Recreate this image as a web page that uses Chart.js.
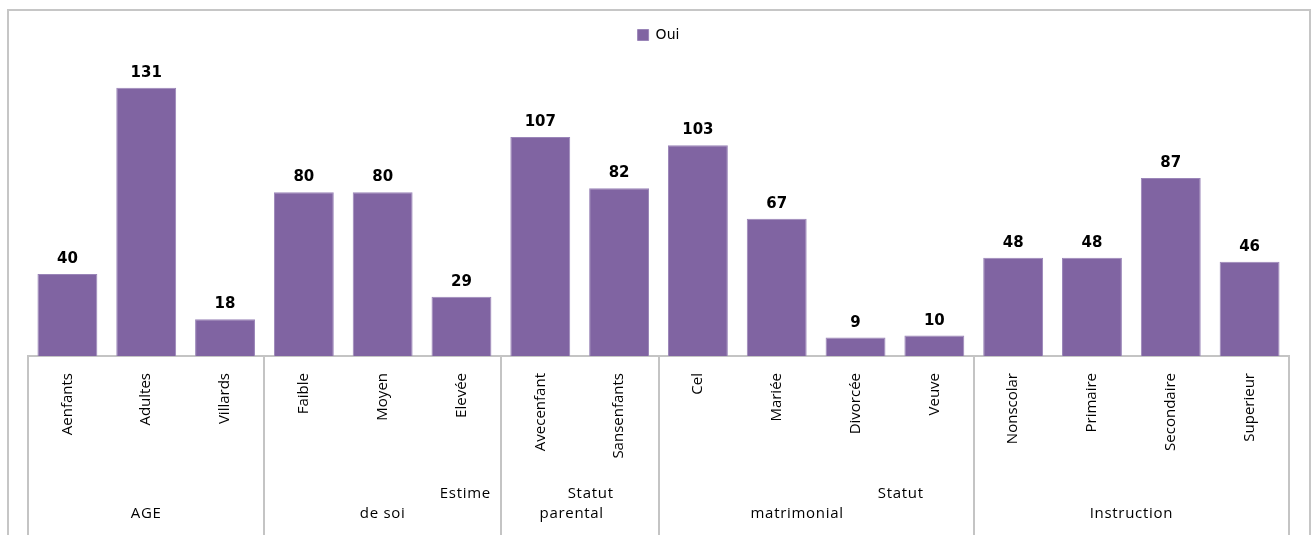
<!DOCTYPE html>
<html>
<head>
<meta charset="utf-8">
<script src="https://cdn.jsdelivr.net/npm/chart.js@4"></script>
<style>
  html,body{margin:0;padding:0;background:#fff;}
  #wrap{width:1313px;height:535px;position:relative;}
</style>
</head>
<body>
<div id="wrap"><canvas id="c" width="1313" height="535"></canvas></div>
<script>
// ---- data ----
const categories = ["Aenfants","Adultes","Villards","Faible","Moyen","Elevée","Avecenfant","Sansenfants","Cel","Mariée","Divorcée","Veuve","Nonscolar","Primaire","Secondaire","Superieur"];
const ouiValues = [40,131,18,80,80,29,107,82,103,67,9,10,48,48,87,46];
const groupNames = [["AGE"],["Estime","de soi"],["Statut","parental"],["Statut","matrimonial"],["Instruction"]];
const groupSizes = [3,3,2,4,4];
const seriesName = "Oui";

// ---- layout for the group label lines (styling, not data) ----
const groupLineLayout = [
  [{row:1, align:'center', dx:0}],
  [{row:0, align:'right', dx:-10}, {row:1, align:'center', dx:0}],
  [{row:0, align:'center', dx:11}, {row:1, align:'center', dx:-8}],
  [{row:0, align:'right', dx:-50}, {row:1, align:'center', dx:-19}],
  [{row:1, align:'center', dx:0}]
];

const PURPLE = '#8064A2';
const GRID = '#c4c4c4';

const decorPlugin = {
  id: 'decor',
  beforeDraw(chart) {
    const ctx = chart.ctx;
    ctx.save();
    ctx.fillStyle = '#fff';
    ctx.fillRect(0,0,chart.width,chart.height);
    ctx.strokeStyle = '#c6c6c6';
    ctx.lineWidth = 2;
    ctx.strokeRect(8, 10, 1302, 560);
    ctx.restore();
  },
  afterDraw(chart) {
    const ctx = chart.ctx;
    const xs = chart.scales.x;
    const area = chart.chartArea;
    const bounds = [area.left];
    let idx = 0;
    groupSizes.forEach(n => {
      idx += n;
      if (idx >= categories.length) bounds.push(area.right);
      else bounds.push((xs.getPixelForValue(idx - 1) + xs.getPixelForValue(idx)) / 2);
    });
    ctx.save();
    ctx.strokeStyle = GRID;
    ctx.lineWidth = 2;
    bounds.forEach(b => {
      ctx.beginPath();
      ctx.moveTo(Math.round(b), area.bottom);
      ctx.lineTo(Math.round(b), chart.height);
      ctx.stroke();
    });
    // group labels
    ctx.fillStyle = '#000';
    ctx.font = '15px "Open Sans"';
    try { ctx.letterSpacing = '0.7px'; } catch(e) {}
    ctx.textBaseline = 'middle';
    const rowY = [494, 514];
    groupNames.forEach((lines, g) => {
      const l = bounds[g], r = bounds[g+1];
      const c = (l + r) / 2;
      lines.forEach((txt, k) => {
        const lay = groupLineLayout[g][k];
        ctx.textAlign = lay.align;
        const x = (lay.align === 'right' ? r : c) + lay.dx;
        ctx.fillText(txt, x, rowY[lay.row]);
      });
    });
    try { ctx.letterSpacing = '0px'; } catch(e) {}
    // value labels
    const meta = chart.getDatasetMeta(0);
    ctx.font = 'bold 15px "DejaVu Sans"';
    ctx.textAlign = 'center';
    ctx.textBaseline = 'alphabetic';
    meta.data.forEach((bar, i) => {
      ctx.fillText(String(ouiValues[i]), bar.x, bar.y - 11);
    });
    ctx.restore();
  }
};

new Chart(document.getElementById('c'), {
  type: 'bar',
  data: {
    labels: categories,
    datasets: [{
      label: seriesName,
      data: ouiValues,
      backgroundColor: PURPLE,
      borderColor: '#9a85b8',
      borderWidth: 1,
      barPercentage: 0.76,
      categoryPercentage: 1.0
    }]
  },
  options: {
    responsive: false,
    animation: false,
    devicePixelRatio: 1,
    layout: { padding: { left: 28, right: 24, top: 18, bottom: 0 } },
    plugins: {
      legend: {
        display: true,
        position: 'top',
        labels: {
          boxWidth: 11, boxHeight: 11, padding: 10,
          color: '#000',
          font: { family: '"DejaVu Sans"', size: 14 }
        }
      },
      tooltip: { enabled: false }
    },
    scales: {
      x: {
        grid: { display: false, drawTicks: false },
        border: { display: true, color: GRID, width: 2 },
        ticks: {
          minRotation: 90, maxRotation: 90, autoSkip: false,
          padding: 17, color: '#000',
          font: { family: '"Open Sans"', size: 15 }
        },
        afterFit(s) { s.height = 179; }
      },
      y: {
        display: false,
        min: 0, max: 148.5
      }
    }
  },
  plugins: [decorPlugin]
});
</script>
</body>
</html>
